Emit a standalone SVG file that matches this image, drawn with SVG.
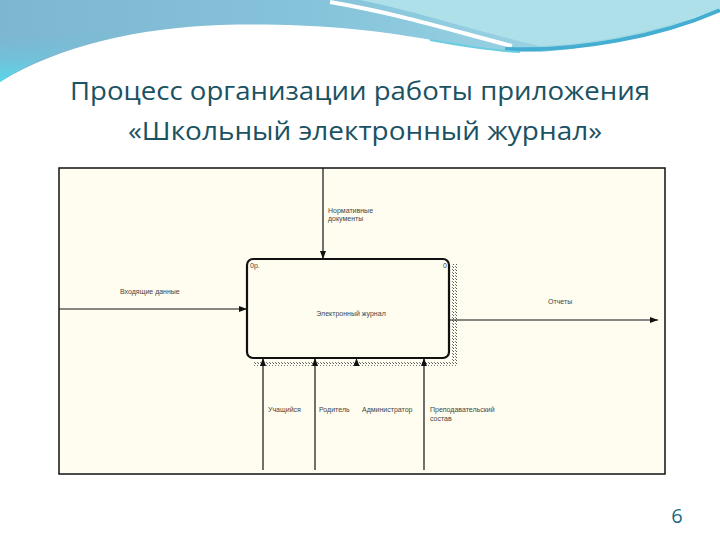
<svg xmlns="http://www.w3.org/2000/svg" width="720" height="540" viewBox="0 0 720 540">
<defs>
<linearGradient id="sky" x1="0" y1="0" x2="1" y2="0">
<stop offset="0" stop-color="#7db6d0"/>
<stop offset="0.45" stop-color="#86c4db"/>
<stop offset="1" stop-color="#a8dee9"/>
</linearGradient>
<linearGradient id="cyan" x1="0" y1="0" x2="0" y2="1">
<stop offset="0" stop-color="#7db6d0" stop-opacity="0"/>
<stop offset="1" stop-color="#58d8ea"/>
</linearGradient>
<pattern id="hatch" width="3" height="3" patternUnits="userSpaceOnUse">
<rect width="3" height="3" fill="#fffdf0"/>
<rect width="1" height="1" fill="#555"/>
<rect x="2" y="2" width="1" height="1" fill="#777"/>
</pattern>
<marker id="ah" viewBox="0 0 8 8" refX="8" refY="4" markerWidth="8" markerHeight="8" markerUnits="userSpaceOnUse" orient="auto">
<path d="M0,1 L8,4 L0,7 Z" fill="#111"/>
</marker>
<style>
.t{font-family:"Open Sans","Liberation Sans",sans-serif;fill:#1b5263;}
.s{font-family:"Liberation Sans",Arial,sans-serif;font-size:7px;fill:#444;}
.ln{stroke:#111;stroke-width:1.2;fill:none;}
</style>
</defs>
<rect width="720" height="540" fill="#ffffff"/>
<!-- header wave -->
<path d="M0,0 H720 V8 C660,32 600,48 540,52 C500,53 470,46 420,38 C360,28 300,23 220,25 C140,28 60,45 0,82 Z" fill="url(#sky)"/>
<path d="M0,30 C50,36 110,34 170,27 C100,34 45,52 0,82 Z" fill="url(#cyan)"/>
<path d="M360,0 H720 V8 C660,30 600,44 540,46 C470,30 420,12 360,0 Z" fill="#aee0ea"/>
<path d="M330,2 C400,14 450,30 512,46" stroke="#ffffff" stroke-width="4" fill="none"/>
<path d="M505,49 C580,52 660,36 720,10" stroke="#44aed2" stroke-width="4" fill="none"/>
<path d="M430,40 C470,47 495,51 520,52" stroke="#6ccde0" stroke-width="2" fill="none"/>
<!-- title -->
<text class="t" x="70" y="100" font-size="25.5" textLength="580" lengthAdjust="spacingAndGlyphs">Процесс организации работы приложения</text>
<text class="t" x="128" y="140" font-size="25.5" textLength="474" lengthAdjust="spacingAndGlyphs">«Школьный электронный журнал»</text>
<!-- frame -->
<rect x="59" y="168" width="606" height="306" fill="#fffdf0" stroke="#111" stroke-width="1.5"/>
<!-- node -->
<g id="node-journal">
<path d="M452,264 V361 H253 V366 H457 V264 Z" fill="url(#hatch)"/>
<rect x="247" y="259" width="202" height="99" rx="6" ry="6" fill="#fffdf0" stroke="#111" stroke-width="2.2"/>
<text class="s" x="250" y="268">0р.</text>
<text class="s" x="443" y="268">0</text>
<text class="s" x="351" y="316" text-anchor="middle">Электронный журнал</text>
</g>
<!-- connectors -->
<g id="connectors">
<line class="ln" x1="323" y1="168" x2="323" y2="259" marker-end="url(#ah)"/>
<line class="ln" x1="59" y1="309" x2="247" y2="309" marker-end="url(#ah)"/>
<line class="ln" x1="449" y1="320" x2="658" y2="320" marker-end="url(#ah)"/>
<line class="ln" x1="263" y1="470" x2="263" y2="358" marker-end="url(#ah)"/>
<line class="ln" x1="315" y1="470" x2="315" y2="358" marker-end="url(#ah)"/>
<path d="M353.5,366 L356.5,358 L359.5,366 Z" fill="#111"/>
<line class="ln" x1="424" y1="470" x2="424" y2="358" marker-end="url(#ah)"/>
</g>
<g id="labels">
<text class="s" x="328" y="213">Нормативные</text>
<text class="s" x="328" y="221">документы</text>
<text class="s" x="120" y="294">Входящие данные</text>
<text class="s" x="548" y="304">Отчеты</text>
<text class="s" x="268" y="412">Учащийся</text>
<text class="s" x="319" y="412">Родитель</text>
<text class="s" x="362" y="412">Администратор</text>
<text class="s" x="430" y="412">Преподавательский</text>
<text class="s" x="430" y="421">состав</text>
</g>
<text x="677" y="523" font-family="'Open Sans','Liberation Sans',sans-serif" font-size="20" fill="#1d6a80" text-anchor="middle">6</text>
</svg>
